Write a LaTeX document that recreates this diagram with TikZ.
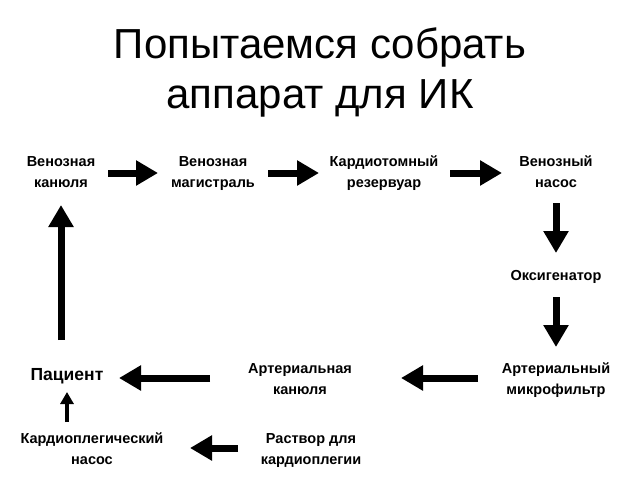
\documentclass[tikz,border=0pt]{standalone}
\usepackage{fontspec}
\setmainfont{Liberation Sans}
\usetikzlibrary{arrows.meta,calc}
\begin{document}
\begin{tikzpicture}[x=1pt,y=-1pt,
  lbl/.style={align=center,font=\fontsize{14.5}{21}\selectfont\bfseries,inner sep=0pt},
  big/.style={line width=7pt,-{Triangle[length=22pt,width=24pt]}},
  small/.style={line width=4pt,-{Triangle[length=12pt,width=13pt]}}]
\useasboundingbox (0,0) rectangle (640,480);
\node[font=\fontsize{42}{50}\selectfont,align=center] (title) at (320,72) {Попытаемся собрать\\аппарат для ИК};
\node[lbl] (vk) at (61,173) {\strut Венозная\\\strut канюля};
\node[lbl] (vm) at (213,173) {\strut Венозная\\\strut магистраль};
\node[lbl] (kr) at (384,173) {\strut Кардиотомный\\\strut резервуар};
\node[lbl] (vn) at (556,173) {\strut Венозный\\\strut насос};
\node[lbl] (ox) at (556,276) {\strut Оксигенатор};
\node[lbl] (am) at (556,380) {\strut Артериальный\\\strut микрофильтр};
\node[lbl] (ak) at (300,380) {\strut Артериальная\\\strut канюля};
\node[lbl,font=\fontsize{17.5}{21}\selectfont\bfseries] (pt) at (67,376) {\strut Пациент};
\node[lbl] (kn) at (92,450) {\strut Кардиоплегический\\\strut насос};
\node[lbl] (rk) at (311,450) {\strut Раствор для\\\strut кардиоплегии};
\draw[big] ($(vk.center)+(47,0)$) -- ($(vm.center)+(-55,0)$);
\draw[big] ($(vm.center)+(55,0)$) -- ($(kr.center)+(-65,0)$);
\draw[big] ($(kr.center)+(66,0)$) -- ($(vn.center)+(-54,0)$);
\draw[big] ($(vn.center)+(0,30)$) -- ($(ox.center)+(0,-23)$);
\draw[big] ($(ox.center)+(0,21)$) -- ($(am.center)+(0,-33)$);
\draw[big] ($(am.center)+(-78,-2)$) -- ($(ak.center)+(101,-2)$);
\draw[big] ($(ak.center)+(-90,-2)$) -- ($(pt.center |- ak.center)+(52,-2)$);
\draw[small] ($(pt.center |- kn.center)+(0,-28)$) -- ($(pt.center)+(0,16)$);
\draw[big] ($(rk.center)+(-73,-2)$) -- ($(kn.center)+(98,-2)$);
\draw[big] ($(vk.center |- pt.center)+(0,-36)$) -- ($(vk.center)+(0,32)$);
\end{tikzpicture}
\end{document}
